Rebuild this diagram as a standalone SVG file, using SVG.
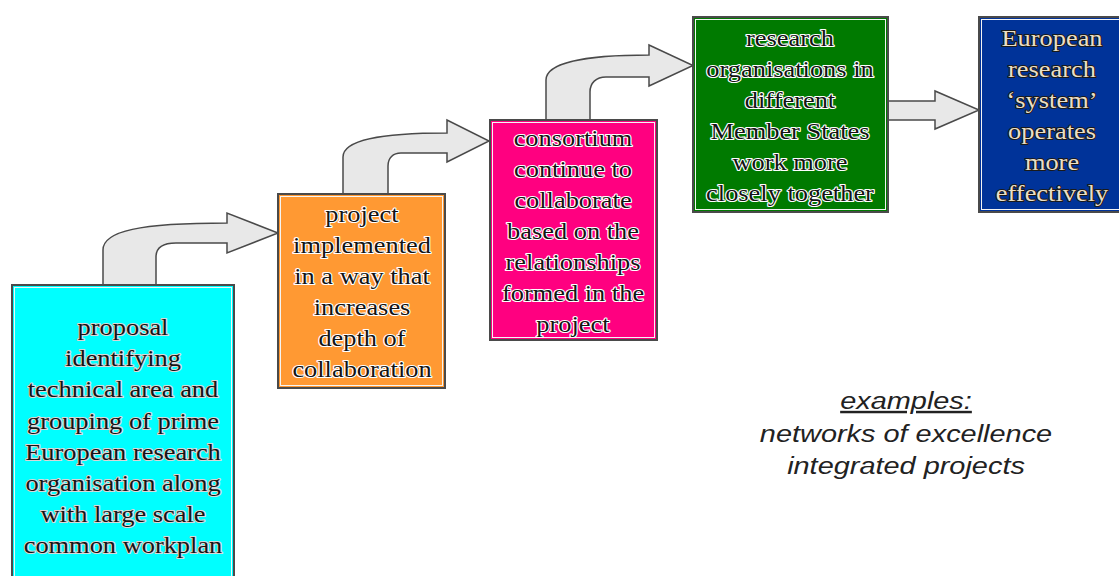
<svg xmlns="http://www.w3.org/2000/svg" width="1119" height="576" viewBox="0 0 1119 576">
<style>
.box{stroke:#4a4a4a;stroke-width:2}
.inner{fill:none;stroke:#f4f4f4;stroke-width:1}
.arrow{fill:#e8e8e8;stroke:#4a4a4a;stroke-width:1.5;stroke-linejoin:miter}
.lbl{font-family:"Liberation Serif","Times New Roman",serif;font-size:24px;text-anchor:middle;fill:#141414;stroke:#ffffff;stroke-width:2.2;paint-order:stroke;stroke-linejoin:round}
.lbl.cy{stroke:#d8d8d8}
.lbl.bl{fill:#eadfc6;stroke:#1a1a1a;stroke-width:2}
.note{font-family:"Liberation Sans",Arial,sans-serif;font-style:italic;font-size:24.5px;text-anchor:middle;fill:#222}
</style>
<rect width="1119" height="576" fill="#ffffff"/>
<g id="connectors">
<path class="arrow" d="M103,287 L103,250 C103,231 140,223 227,223 L227,213 L278,233 L227,253 L227,243 L176,243 C163,243 156,248 156,257 L156,287 Z"/>
<path class="arrow" d="M343,196 L343,157 C343,140 380,133 447,133 L447,120 L489,141 L447,162 L447,153 L401,153 C393,153 388,158 388,166 L388,196 Z"/>
<path class="arrow" d="M546,122 L546,80 C546,63 585,55 649,55 L649,45 L693,65.5 L649,86 L649,77 L606,77 C596,77 590,83 590,92 L590,122 Z"/>
<path class="arrow" d="M886,101 L935,101 L935,91 L979,110 L935,129 L935,120 L886,120 Z"/>
</g>
<g id="node1">
<rect class="box" x="12" y="285" width="222" height="300" fill="#00ffff"/>
<rect class="inner" x="14.5" y="287.5" width="217" height="300"/>
<text class="lbl cy" transform="translate(123,0) scale(1.1,1)"><tspan x="0" y="335">proposal</tspan><tspan x="0" y="366">identifying</tspan><tspan x="0" y="397">technical area and</tspan><tspan x="0" y="429">grouping of prime</tspan><tspan x="0" y="460">European research</tspan><tspan x="0" y="491">organisation along</tspan><tspan x="0" y="522">with large scale</tspan><tspan x="0" y="553">common workplan</tspan></text>
</g>
<g id="node2">
<rect class="box" x="278" y="194" width="167" height="194" fill="#ff9933"/>
<rect class="inner" x="280.5" y="196.5" width="162" height="189"/>
<text class="lbl" transform="translate(362,0) scale(1.1,1)"><tspan x="0" y="222">project</tspan><tspan x="0" y="253">implemented</tspan><tspan x="0" y="284">in a way that</tspan><tspan x="0" y="315">increases</tspan><tspan x="0" y="346">depth of</tspan><tspan x="0" y="377">collaboration</tspan></text>
</g>
<g id="node3">
<rect class="box" x="490" y="120" width="167" height="220" fill="#ff0080"/>
<rect class="inner" x="492.5" y="122.5" width="162" height="215"/>
<text class="lbl" transform="translate(573,0) scale(1.1,1)"><tspan x="0" y="146">consortium</tspan><tspan x="0" y="177">continue to</tspan><tspan x="0" y="208">collaborate</tspan><tspan x="0" y="239">based on the</tspan><tspan x="0" y="270">relationships</tspan><tspan x="0" y="301">formed in the</tspan><tspan x="0" y="332">project</tspan></text>
</g>
<g id="node4">
<rect class="box" x="693" y="17" width="195" height="195" fill="#007a00"/>
<rect class="inner" x="695.5" y="19.5" width="190" height="190"/>
<text class="lbl" transform="translate(790,0) scale(1.1,1)"><tspan x="0" y="46">research</tspan><tspan x="0" y="77">organisations in</tspan><tspan x="0" y="108">different</tspan><tspan x="0" y="139">Member States</tspan><tspan x="0" y="170">work more</tspan><tspan x="0" y="201">closely together</tspan></text>
</g>
<g id="node5">
<rect class="box" x="979" y="17" width="150" height="195" fill="#003399"/>
<rect class="inner" x="981.5" y="19.5" width="145" height="190"/>
<text class="lbl bl" transform="translate(1052,0) scale(1.1,1)"><tspan x="0" y="46">European</tspan><tspan x="0" y="77">research</tspan><tspan x="0" y="108">‘system’</tspan><tspan x="0" y="139">operates</tspan><tspan x="0" y="170">more</tspan><tspan x="0" y="201">effectively</tspan></text>
</g>
<g id="examples">
<text class="note" transform="translate(906,0) scale(1.18,1)"><tspan x="0" y="409" text-decoration="underline">examples:</tspan><tspan x="0" y="442">networks of excellence</tspan><tspan x="0" y="474">integrated projects</tspan></text>
</g>
</svg>
